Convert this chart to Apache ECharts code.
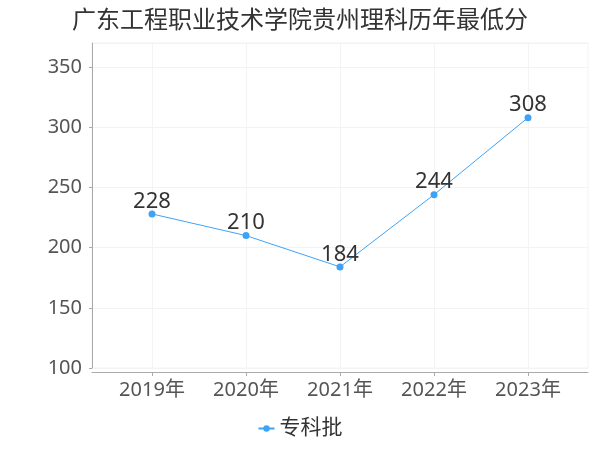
<!DOCTYPE html>
<html>
<head>
<meta charset="utf-8">
<script src="https://cdn.jsdelivr.net/npm/echarts@6/dist/echarts.min.js"></script>
<style>html,body{margin:0;padding:0;background:#fff}#c{width:600px;height:450px}</style>
</head>
<body>
<div id="c"></div>
<script>
const titleText = '广东工程职业技术学院贵州理科历年最低分';
const categories = ['2019年', '2020年', '2021年', '2022年', '2023年'];
const seriesName = '专科批';
const scores = [228, 210, 184, 244, 308];
const yMin = 100, yMax = 370, yInterval = 50;

const FONT = '"Noto Sans", "Noto Sans CJK SC", sans-serif';
const chart = echarts.init(document.getElementById('c'));
chart.setOption({
  animation: false,
  title: {
    text: titleText, left: 'center', top: 4,
    textStyle: { fontSize: 24, fontWeight: 'normal', color: '#333', fontFamily: FONT }
  },
  legend: {
    bottom: 6, left: 'center', itemWidth: 16, itemHeight: 8, itemGap: 10,
    data: [seriesName],
    textStyle: { fontSize: 21, color: '#333', fontFamily: FONT }
  },
  grid: [
    { left: 152, right: 72, top: 43, bottom: 82, show: false },
    { left: 92, right: 12, top: 43, bottom: 82, show: true, borderColor: '#f3f3f3', borderWidth: 1 }
  ],
  xAxis: [
    {
      gridIndex: 0, type: 'category', data: categories, boundaryGap: false, offset: 4,
      axisLine: { show: false },
      axisTick: { show: true, length: 4, lineStyle: { color: '#aaa' } },
      axisLabel: { fontSize: 20, color: '#555', margin: 8, fontFamily: FONT },
      splitLine: { show: true, lineStyle: { color: '#f3f3f3' } }
    },
    {
      gridIndex: 1, type: 'value', min: 0, max: 1, offset: 4,
      axisLine: { show: true, lineStyle: { color: '#aaa' } },
      axisTick: { show: false }, axisLabel: { show: false }, splitLine: { show: false }
    }
  ],
  yAxis: [
    {
      gridIndex: 0, type: 'value', min: yMin, max: yMax, interval: yInterval,
      axisLine: { show: false }, axisTick: { show: false }, axisLabel: { show: false },
      splitLine: { show: false }
    },
    {
      gridIndex: 1, type: 'value', min: yMin, max: yMax, interval: yInterval, offset: 4,
      axisLine: { show: true, lineStyle: { color: '#aaa' } },
      axisTick: { show: true, length: 3, lineStyle: { color: '#aaa' } },
      axisLabel: { fontSize: 20, color: '#555', margin: 6, fontFamily: FONT, showMaxLabel: false },
      splitLine: { show: true, lineStyle: { color: '#f3f3f3' } }
    }
  ],
  series: [{
    name: seriesName, type: 'line', xAxisIndex: 0, yAxisIndex: 0,
    data: scores, symbol: 'circle', symbolSize: 7,
    itemStyle: { color: '#3fa2f7' },
    lineStyle: { color: '#3fa2f7', width: 1 },
    label: { show: true, position: 'top', distance: -2, fontSize: 22, color: '#333', fontFamily: FONT }
  }]
});
</script>
</body>
</html>
